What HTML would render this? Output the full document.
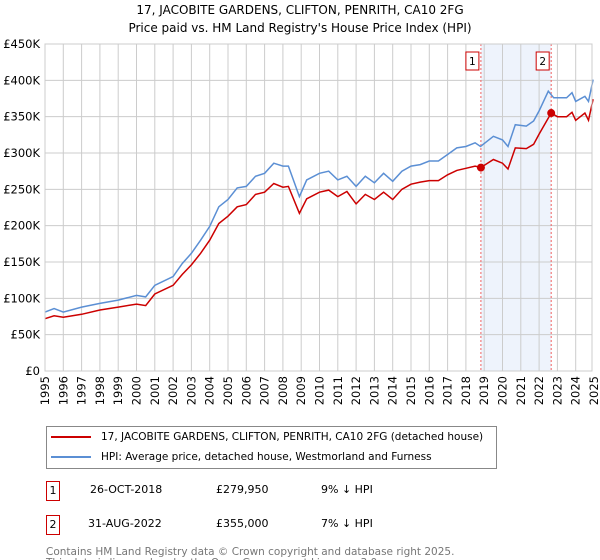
<!DOCTYPE html>
<html><head><meta charset="utf-8">
<style>
body{margin:0;background:#fff;font-family:"DejaVu Sans","Liberation Sans",sans-serif;}
#wrap{position:relative;width:600px;height:560px;overflow:hidden;}
.t{position:absolute;white-space:nowrap;color:#000;}
</style></head><body>
<div id="wrap">
<div class="t" style="left:0;width:600px;text-align:center;top:1px;font-size:12px;line-height:18px;">17, JACOBITE GARDENS, CLIFTON, PENRITH, CA10 2FG<br>Price paid vs. HM Land Registry's House Price Index (HPI)</div>
<svg id="chart" width="600" height="420" style="position:absolute;left:0;top:0;font-family:'DejaVu Sans',sans-serif"></svg>
<div style="position:absolute;left:46px;top:426px;width:449px;height:41px;border:1px solid #888;">
 <div class="t" style="left:4px;top:3px;font-size:10.5px;line-height:15px"><span style="display:inline-block;width:40px;height:2px;background:#cc0000;vertical-align:middle;margin-right:10px"></span>17, JACOBITE GARDENS, CLIFTON, PENRITH, CA10 2FG (detached house)</div>
 <div class="t" style="left:4px;top:23px;font-size:10.5px;line-height:15px"><span style="display:inline-block;width:40px;height:2px;background:#5b8fd4;vertical-align:middle;margin-right:10px"></span>HPI: Average price, detached house, Westmorland and Furness</div>
</div>
<div>
 <div class="t" style="left:46px;top:481px;width:12px;height:18px;border:1px solid #cc0000;font-size:11px;line-height:18px;text-align:center">1</div>
 <div class="t" style="left:90px;top:483px;font-size:11px">26-OCT-2018</div>
 <div class="t" style="left:216px;top:483px;font-size:11px">£279,950</div>
 <div class="t" style="left:321px;top:483px;font-size:11px">9% ↓ HPI</div>
</div>
<div>
 <div class="t" style="left:46px;top:515px;width:12px;height:18px;border:1px solid #cc0000;font-size:11px;line-height:18px;text-align:center">2</div>
 <div class="t" style="left:88px;top:517px;font-size:11px">31-AUG-2022</div>
 <div class="t" style="left:216px;top:517px;font-size:11px">£355,000</div>
 <div class="t" style="left:321px;top:517px;font-size:11px">7% ↓ HPI</div>
</div>
<div class="t" style="left:46px;top:547px;font-size:10.5px;line-height:11px;color:#777">Contains HM Land Registry data © Crown copyright and database right 2025.<br>This data is licensed under the Open Government Licence v3.0.</div>
</div>
<script>
const hpiYears=[1995,1995.5,1996,1997,1998,1999,2000,2000.5,2001,2002,2002.5,2003,2003.5,2004,2004.5,2005,2005.5,2006,2006.5,2007,2007.5,2008,2008.3,2008.9,2009.3,2010,2010.5,2011,2011.5,2012,2012.5,2013,2013.5,2014,2014.5,2015,2015.5,2016,2016.5,2017,2017.5,2018,2018.5,2018.8,2019.5,2020,2020.3,2020.7,2021.3,2021.7,2022,2022.5,2022.8,2023.5,2023.8,2024,2024.5,2024.7,2024.95];
const hpiValues=[81,86,81,88,93,97.5,104,102,118,130,148,162,180,199,226,236,252,254,268,272,286,282,282,240,263,272,275,263,268,254,268,259,272,261,275,282,284,289,289,298,307,309,314,309,323,318,309,339,337,344,358,385,376,376,383,371,378,371,401];
const propYears=[1995,1995.5,1996,1997,1998,1999,2000,2000.5,2001,2002,2002.5,2003,2003.5,2004,2004.5,2005,2005.5,2006,2006.5,2007,2007.5,2008,2008.3,2008.9,2009.3,2010,2010.5,2011,2011.5,2012,2012.5,2013,2013.5,2014,2014.5,2015,2015.5,2016,2016.5,2017,2017.5,2018,2018.5,2018.82,2019.5,2020,2020.3,2020.7,2021.3,2021.7,2022,2022.66,2023,2023.5,2023.8,2024,2024.5,2024.7,2024.95];
const propValues=[72,76,74,78,84,88,92,90,106,118,133,146,162,180,203,213,226,229,243,246,258,253,254,217,237,246,249,240,247,230,243,236,246,236,250,257,260,262,262,270,276,279,282,280,291,286,278,307,306,312,326,355,350,350,356,345,355,345,374];
const saleYears=[2018.82,2022.66];
const saleValues=[279.95,355];
const saleLabels=["1","2"];
const yTicks=[0,50,100,150,200,250,300,350,400,450];
const yTickLabels=["£0","£50K","£100K","£150K","£200K","£250K","£300K","£350K","£400K","£450K"];
const xTicks=[1995,1996,1997,1998,1999,2000,2001,2002,2003,2004,2005,2006,2007,2008,2009,2010,2011,2012,2013,2014,2015,2016,2017,2018,2019,2020,2021,2022,2023,2024,2025];

const L=45,R=592,T=44,B=371;
const x=v=>L+(v-1995)*18.3;
const y=v=>B-v*(B-T)/450;
const svg=document.getElementById('chart');
const NS='http://www.w3.org/2000/svg';
function mk(tag,attrs,parent){const e=document.createElementNS(NS,tag);for(const k in attrs)e.setAttribute(k,attrs[k]);(parent||svg).appendChild(e);return e;}
const sh=mk('rect',{x:x(saleYears[0]),y:T,width:x(saleYears[1])-x(saleYears[0]),height:B-T,fill:'#eef3fc'});


yTicks.forEach((v,i)=>{
 const g=mk('line',{x1:L,x2:R,y1:y(v),y2:y(v),stroke:'#ccc','stroke-width':1});
 
 
 const t=mk('text',{x:L-5,y:y(v)+4,'text-anchor':'end','font-size':11.5,fill:'#000'});
 t.textContent=yTickLabels[i];
 
 
});
xTicks.forEach(v=>{
 const xv=Math.min(x(v),R);
 const g=mk('line',{x1:xv,x2:xv,y1:T,y2:B,stroke:'#ccc','stroke-width':1});
 
 
 const t=mk('text',{x:0,y:0,'text-anchor':'end','font-size':11.5,fill:'#000',transform:`translate(${x(v)+4},${B+5}) rotate(-90)`});
 t.textContent=v;
 
 
});
saleYears.forEach((yr,i)=>{
 const l=mk('line',{x1:x(yr),x2:x(yr),y1:T,y2:B,stroke:'#f06060','stroke-width':1,'stroke-dasharray':'2,2'});
 
 
 const r=mk('rect',{x:x(yr)-15,y:52,width:13,height:18,fill:'#fff',stroke:'#cc0000'});
 
 
 const t=mk('text',{x:x(yr)-8.5,y:65,'text-anchor':'middle','font-size':10.5});
 t.textContent=saleLabels[i];
 
 
});
const pts=(xs,vs)=>xs.map((a,i)=>x(a).toFixed(1)+','+y(vs[i]).toFixed(1)).join(' ');
const hl=mk('polyline',{points:pts(hpiYears,hpiValues),fill:'none',stroke:'#5b8fd4','stroke-width':1.5});


const pl=mk('polyline',{points:pts(propYears,propValues),fill:'none',stroke:'#cc0000','stroke-width':1.5});


saleYears.forEach((yr,i)=>{
 const c=mk('circle',{cx:x(yr),cy:y(saleValues[i]),r:4,fill:'#cc0000'});
 
 
});
const ax=mk('rect',{x:L,y:T,width:R-L,height:B-T,fill:'none',stroke:'#ccc'});


</script>
</body></html>
